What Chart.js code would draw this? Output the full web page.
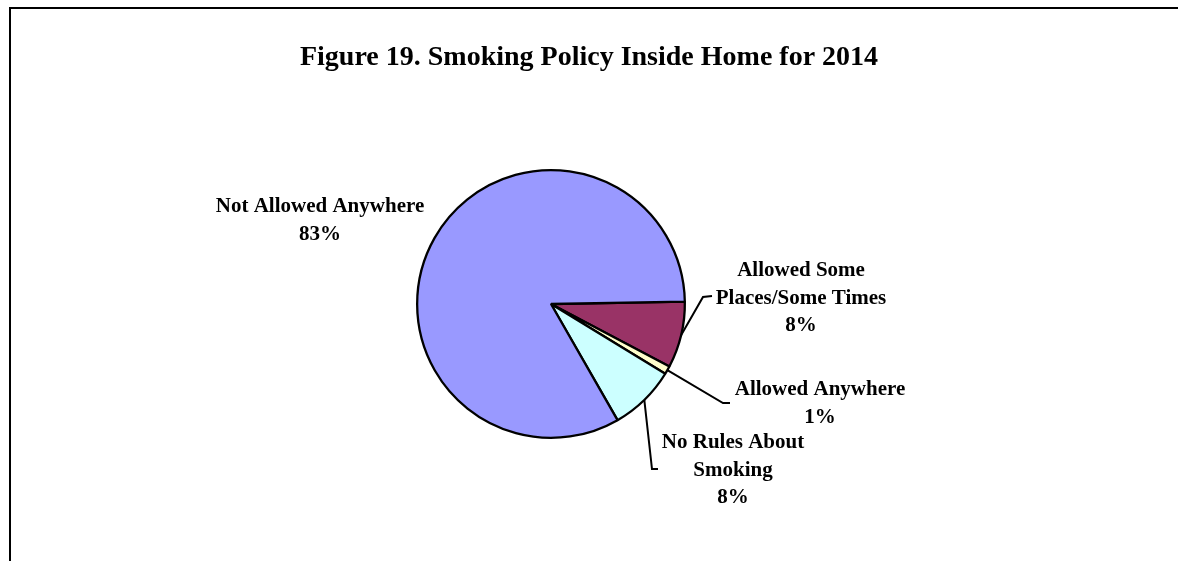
<!DOCTYPE html>
<html>
<head>
<meta charset="utf-8">
<script src="https://cdn.jsdelivr.net/npm/chart.js@4.4.1/dist/chart.umd.min.js"></script>
<style>
    html, body { margin: 0; padding: 0; background: #fff; }
    #wrap { position: relative; width: 1178px; height: 561px; }
</style>
</head>
<body>
<div id="wrap"><canvas id="policyChart" width="1178" height="561"></canvas></div>
<script>
// Smoking policy inside the home, 2014 (percent of respondents)
const categories = ['Allowed Some Places/Some Times', 'Allowed Anywhere', 'No Rules About Smoking', 'Not Allowed Anywhere'];
const percentages = [8, 1, 8, 83];
const labelLines = [
    ['Allowed Some', 'Places/Some Times'],
    ['Allowed Anywhere'],
    ['No Rules About', 'Smoking'],
    ['Not Allowed Anywhere']
];
const sliceColors = ['#993366', '#FFFFCC', '#CCFFFF', '#9999FF'];

const titleText = 'Figure 19. Smoking Policy Inside Home for 2014';
const serif = "'Liberation Serif', 'Times New Roman', serif";

// Where each label block sits and where its leader line bends
const labelLayout = [
    { x: 801, y: 276, elbow: [703, 297], end: [712, 296] },
    { x: 820, y: 395, elbow: [723, 403], end: [730, 403] },
    { x: 733, y: 448, elbow: [652, 469], end: [658, 469] },
    { x: 320, y: 212, elbow: null, end: null }
];

// Frame, title, leader lines and slice labels
const decorPlugin = {
    id: 'decor',
    beforeDraw(chart) {
        const ctx = chart.ctx;
        ctx.save();
        ctx.fillStyle = '#fff';
        ctx.fillRect(0, 0, chart.width, chart.height);
        ctx.fillStyle = '#000';
        ctx.fillRect(9, 7, chart.width - 9, 2);
        ctx.fillRect(9, 7, 2, chart.height - 7);

        ctx.font = 'bold 28px ' + serif;
        ctx.textAlign = 'center';
        ctx.textBaseline = 'alphabetic';
        ctx.fillText(titleText, 589, 65);
        ctx.restore();
    },
    afterDatasetsDraw(chart) {
        const ctx = chart.ctx;
        const arcs = chart.getDatasetMeta(0).data;
        ctx.save();
        ctx.strokeStyle = '#000';
        ctx.lineWidth = 2;
        ctx.fillStyle = '#000';
        ctx.font = 'bold 21px ' + serif;
        ctx.textAlign = 'center';
        ctx.textBaseline = 'alphabetic';

        arcs.forEach((arc, i) => {
            const p = arc.getProps(['x', 'y', 'startAngle', 'endAngle', 'outerRadius'], true);
            const mid = (p.startAngle + p.endAngle) / 2;
            const lay = labelLayout[i];

            if (lay.elbow) {
                ctx.beginPath();
                ctx.moveTo(p.x + Math.cos(mid) * p.outerRadius, p.y + Math.sin(mid) * p.outerRadius);
                ctx.lineTo(lay.elbow[0], lay.elbow[1]);
                ctx.lineTo(lay.end[0], lay.end[1]);
                ctx.stroke();
            }

            const lines = labelLines[i].concat([percentages[i] + '%']);
            lines.forEach((line, k) => {
                ctx.fillText(line, lay.x, lay.y + k * 27.5);
            });
        });
        ctx.restore();
    }
};

new Chart(document.getElementById('policyChart'), {
    type: 'pie',
    data: {
        labels: categories,
        datasets: [{
            data: percentages,
            backgroundColor: sliceColors,
            borderColor: '#000',
            borderWidth: 2.3
        }]
    },
    options: {
        responsive: false,
        animation: false,
        rotation: 89,
        layout: {
            padding: { top: 169, bottom: 122, left: 416, right: 492 }
        },
        plugins: {
            legend: { display: false },
            title: { display: false },
            tooltip: { enabled: false }
        }
    },
    plugins: [decorPlugin]
});
</script>
</body>
</html>
